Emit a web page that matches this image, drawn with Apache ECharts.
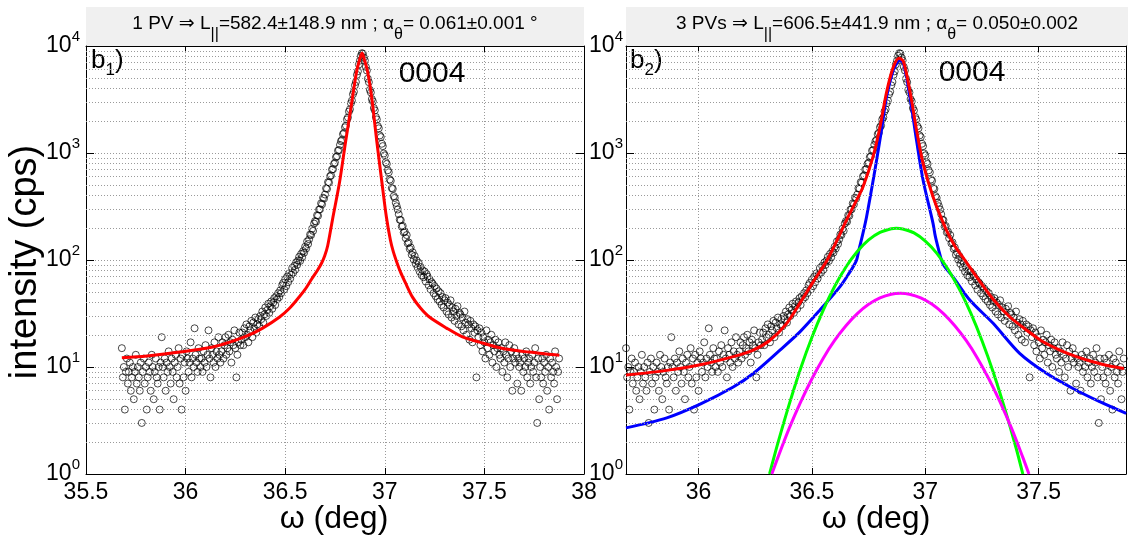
<!DOCTYPE html>
<html>
<head>
<meta charset="utf-8">
<script src="https://cdn.jsdelivr.net/npm/echarts@6.0.0/dist/echarts.min.js"></script>
<style>
html,body{margin:0;padding:0;background:#fff;}
#chart{width:1128px;height:543px;}
</style>
</head>
<body>
<div id="chart"></div>
<script>
// ω scan grid (deg) of the 0004 rocking curve
const omega = [
35.680,35.685,35.690,35.695,35.700,35.705,35.710,35.715,35.720,35.725,35.730,35.735,35.740,35.745,35.750,35.755,35.760,35.765,35.770,35.775,
35.780,35.785,35.790,35.795,35.800,35.805,35.810,35.815,35.820,35.825,35.830,35.835,35.840,35.845,35.850,35.855,35.860,35.865,35.870,35.875,
35.880,35.885,35.890,35.895,35.900,35.905,35.910,35.915,35.920,35.925,35.930,35.935,35.940,35.945,35.950,35.955,35.960,35.965,35.970,35.975,
35.980,35.985,35.990,35.995,36.000,36.005,36.010,36.015,36.020,36.025,36.030,36.035,36.040,36.045,36.050,36.055,36.060,36.065,36.070,36.075,
36.080,36.085,36.090,36.095,36.100,36.105,36.110,36.115,36.120,36.125,36.130,36.135,36.140,36.145,36.150,36.155,36.160,36.165,36.170,36.175,
36.180,36.185,36.190,36.195,36.200,36.205,36.210,36.215,36.220,36.225,36.230,36.235,36.240,36.245,36.250,36.255,36.260,36.265,36.270,36.275,
36.280,36.285,36.290,36.295,36.300,36.305,36.310,36.315,36.320,36.325,36.330,36.335,36.340,36.345,36.350,36.355,36.360,36.365,36.370,36.375,
36.380,36.385,36.390,36.395,36.400,36.405,36.410,36.415,36.420,36.425,36.430,36.435,36.440,36.445,36.450,36.455,36.460,36.465,36.470,36.475,
36.480,36.485,36.490,36.495,36.500,36.505,36.510,36.515,36.520,36.525,36.530,36.535,36.540,36.545,36.550,36.555,36.560,36.565,36.570,36.575,
36.580,36.585,36.590,36.595,36.600,36.605,36.610,36.615,36.620,36.625,36.630,36.635,36.640,36.645,36.650,36.655,36.660,36.665,36.670,36.675,
36.680,36.685,36.690,36.695,36.700,36.705,36.710,36.715,36.720,36.725,36.730,36.735,36.740,36.745,36.750,36.755,36.760,36.765,36.770,36.775,
36.780,36.785,36.790,36.795,36.800,36.805,36.810,36.815,36.820,36.825,36.830,36.835,36.840,36.845,36.850,36.855,36.860,36.865,36.870,36.875,
36.880,36.885,36.890,36.895,36.900,36.905,36.910,36.915,36.920,36.925,36.930,36.935,36.940,36.945,36.950,36.955,36.960,36.965,36.970,36.975,
36.980,36.985,36.990,36.995,37.000,37.005,37.010,37.015,37.020,37.025,37.030,37.035,37.040,37.045,37.050,37.055,37.060,37.065,37.070,37.075,
37.080,37.085,37.090,37.095,37.100,37.105,37.110,37.115,37.120,37.125,37.130,37.135,37.140,37.145,37.150,37.155,37.160,37.165,37.170,37.175,
37.180,37.185,37.190,37.195,37.200,37.205,37.210,37.215,37.220,37.225,37.230,37.235,37.240,37.245,37.250,37.255,37.260,37.265,37.270,37.275,
37.280,37.285,37.290,37.295,37.300,37.305,37.310,37.315,37.320,37.325,37.330,37.335,37.340,37.345,37.350,37.355,37.360,37.365,37.370,37.375,
37.380,37.385,37.390,37.395,37.400,37.405,37.410,37.415,37.420,37.425,37.430,37.435,37.440,37.445,37.450,37.455,37.460,37.465,37.470,37.475,
37.480,37.485,37.490,37.495,37.500,37.505,37.510,37.515,37.520,37.525,37.530,37.535,37.540,37.545,37.550,37.555,37.560,37.565,37.570,37.575,
37.580,37.585,37.590,37.595,37.600,37.605,37.610,37.615,37.620,37.625,37.630,37.635,37.640,37.645,37.650,37.655,37.660,37.665,37.670,37.675,
37.680,37.685,37.690,37.695,37.700,37.705,37.710,37.715,37.720,37.725,37.730,37.735,37.740,37.745,37.750,37.755,37.760,37.765,37.770,37.775,
37.780,37.785,37.790,37.795,37.800,37.805,37.810,37.815,37.820,37.825,37.830,37.835,37.840,37.845,37.850,37.855,37.860,37.865,37.870,37.875
];

// measured intensity (cps), one value per ω step
const counts = [
15,8,10,4,9,12,7,9,11,6,8,10,5,9,13,7,10,8,6,11,
3,9,12,7,10,4,8,11,9,6,13,10,5,9,12,8,7,10,4,11,
19,10,8,12,6,11,9,14,10,7,12,9,5,11,13,8,10,15,7,12,
4,13,8,11,6,14,12,9,11,17,8,12,10,23,13,11,9,15,12,10,
12,9,14,11,16,10,13,22,12,8,15,13,11,17,10,14,12,19,13,11,
14,17,12,16,19,13,15,20,14,17,11,18,16,22,15,8,13,17,21,16,
18,21,16,23,19,25,20,17,24,22,27,19,26,23,29,21,25,28,24,30,
28,33,26,31,36,30,34,39,32,37,41,35,40,44,38,46,43,49,45,52,
49,58,61,53,66,57,70,62,75,67,73,84,76,88,81,95,90,99,107,98,
114,106,121,117,133,128,149,141,156,173,171,196,187,219,231,228,262,259,296,298,
338,331,382,375,409,468,462,534,529,604,618,701,706,790,812,915,931,1052,1068,1190,
1290,1325,1500,1540,1740,1805,2060,2150,2440,2560,2920,3090,3540,3740,4290,4610,5380,5800,6720,7290,
8100,8560,8480,7800,7320,6380,5900,4950,4590,3890,3680,3190,3040,2630,2500,2170,2060,1780,1700,1460,
1410,1220,1160,990,950,820,790,690,660,565,550,470,462,395,380,342,318,296,268,238,
236,205,208,181,184,160,171,143,146,127,131,112,118,101,109,92,99,85,94,78,
86,72,80,69,78,63,74,70,58,66,53,62,60,49,57,46,54,43,51,41,
49,38,45,36,42,44,33,40,31,38,42,29,36,33,27,35,30,37,25,32,
31,24,29,22,33,26,20,28,25,18,27,23,17,25,21,24,8,22,19,23,
16,21,14,19,17,12,22,15,18,13,17,20,11,16,14,18,10,15,17,13,
12,15,9,14,11,17,13,8,12,16,10,14,6,12,15,11,13,7,12,10,
11,6,13,9,12,10,14,8,11,12,7,10,13,9,11,15,8,3,12,5,
10,8,12,7,11,9,13,6,10,4,12,8,11,9,7,14,10,5,9,12
];

// single pseudo-Voigt fit (panel b1)
const fit1Omega = [35.680,35.806,35.971,36.137,36.222,36.308,36.387,36.472,36.523,36.558,36.598,36.633,36.663,36.683,36.698,36.713,36.738,36.773,36.803,36.833,36.858,36.873,36.886,36.898,36.914,36.934,36.959,36.984,37.008,37.028,37.043,37.058,37.079,37.104,37.139,37.179,37.224,37.310,37.390,37.475,37.560,37.640,37.726,37.811,37.876];
const fit1Int   = [12.2,12.7,13.8,15.4,17.1,19.5,23.1,29.3,35.6,42.3,52.5,66.4,80.7,93.8,109,135,242,536,1268,2870,5710,7400,8600,7400,5710,3340,1322,559,252,154,119,98,77,61,45,35.6,29.3,23.1,19.1,17.1,15.4,14.4,13.8,13.2,12.9];

// sum of the three pseudo-Voigt components plus background (panel b2)
const sumOmega = [35.680,35.860,36.007,36.153,36.241,36.315,36.389,36.447,36.506,36.565,36.610,36.653,36.690,36.725,36.769,36.800,36.829,36.858,36.884,36.903,36.932,36.961,36.990,37.034,37.093,37.130,37.174,37.226,37.299,37.372,37.446,37.519,37.593,37.666,37.738,37.813,37.876];
const sumInt   = [8.4,9.3,10.5,12.5,14.4,17.8,25.6,39.5,62.8,98,152,237,340,481,920,1740,3700,6300,7700,7200,3800,1650,800,390,190,135,100,69.5,43,29.5,22.2,17.2,14.4,12.5,11.2,10.2,9.7];

// component 1 (narrow pseudo-Voigt)
const pvAOmega = [35.680,35.860,36.007,36.153,36.241,36.359,36.447,36.535,36.623,36.667,36.683,36.697,36.707,36.722,36.741,36.778,36.807,36.829,36.858,36.880,36.884,36.903,36.932,36.961,36.990,37.034,37.044,37.059,37.071,37.084,37.122,37.196,37.299,37.416,37.534,37.651,37.769,37.886];
const pvAInt   = [2.7,3.35,4.5,6.5,8.7,14.4,21.3,34,56,77,87.6,100,124,167,254,697,1650,3360,5900,7300,7400,6920,3360,1320,560,220,167,124,100,87.6,69.5,42.3,25.6,13.4,8.72,6.3,4.74,3.68];

// component 2 (green)
const pvBOmega = [36.313,36.350,36.400,36.450,36.500,36.550,36.600,36.650,36.700,36.750,36.800,36.850,36.872,36.900,36.950,37.000,37.050,37.100,37.150,37.200,37.250,37.300,37.350,37.400,37.430];
const pvBInt   = [1,1.95,4.5,9.7,19,34,56.5,86,120,154,181,196,198,195,179,150,116,82,53.4,32,17.6,8.9,4.1,1.76,1];

// component 3 (magenta)
const pvCOmega = [36.323,36.350,36.400,36.450,36.500,36.550,36.600,36.650,36.700,36.750,36.800,36.850,36.890,36.930,36.980,37.030,37.080,37.130,37.180,37.230,37.280,37.330,37.380,37.430,37.457];
const pvCInt   = [1,1.43,2.68,4.7,7.76,12.1,17.7,24.3,31.5,38.5,44.2,47.9,48.8,47.9,44.2,38.5,31.5,24.3,17.7,12.1,7.76,4.7,2.68,1.43,1];

// minor decade gridline levels on the log intensity axis
const minorLevels = [2,3,4,5,6,7,8,9,20,30,40,50,60,70,80,90,200,300,400,500,600,700,800,900,2000,3000,4000,5000,6000,7000,8000,9000];

// text
const titleLeft  = '1 PV \u21D2 L{s|||}=582.4\u00B1148.9 nm ; \u03B1{s|\u03B8}= 0.061\u00B10.001 \u00B0';
const titleRight = '3 PVs \u21D2 L{s|||}=606.5\u00B1441.9 nm ; \u03B1{s|\u03B8}= 0.050\u00B10.002';
const reflection = '0004';

const FONT = '"Liberation Sans", Arial, "DejaVu Sans", sans-serif';
const gridLine = { type: [1, 2], color: '#9a9a9a', width: 1 };

const pairs = (xs, ys) => xs.map((x, i) => [x, ys[i]]);
const scatterData = pairs(omega, counts);

function xAxisPair(gi, extra, bottomLabel) {
  const base = Object.assign({ type: 'value', gridIndex: gi }, extra);
  return [
    Object.assign({}, base, {
      position: 'bottom',
      axisLine: { show: true, onZero: false, lineStyle: { color: '#000', width: 1 } },
      axisTick: { show: true, inside: true, length: 6, lineStyle: { color: '#000' } },
      axisLabel: Object.assign({ color: '#000', fontSize: 23, fontFamily: FONT, margin: 7 }, bottomLabel),
      splitLine: { show: true, lineStyle: gridLine }
    }),
    Object.assign({}, base, {
      position: 'top',
      axisLine: { show: true, onZero: false, lineStyle: { color: '#000', width: 1 } },
      axisTick: { show: true, inside: true, length: 6, lineStyle: { color: '#000' } },
      axisLabel: { show: false },
      splitLine: { show: false }
    })
  ];
}

function yAxisPair(gi, margin) {
  const base = { type: 'log', logBase: 10, min: 1, max: 10000, gridIndex: gi };
  return [
    Object.assign({}, base, {
      position: 'left',
      axisLine: { show: true, onZero: false, lineStyle: { color: '#000', width: 1 } },
      axisTick: { show: true, inside: true, length: 8, lineStyle: { color: '#000' } },
      axisLabel: {
        margin: margin,
        formatter: v => '{b|10}{e|' + Math.round(Math.log10(v)) + '}',
        rich: {
          b: { fontSize: 23, lineHeight: 34, color: '#000', fontFamily: FONT },
          e: { fontSize: 15, lineHeight: 15, verticalAlign: 'top', color: '#000', fontFamily: FONT }
        }
      },
      splitLine: { show: true, lineStyle: gridLine }
    }),
    Object.assign({}, base, {
      position: 'right',
      axisLine: { show: true, onZero: false, lineStyle: { color: '#000', width: 1 } },
      axisTick: { show: true, inside: true, length: 8, lineStyle: { color: '#000' } },
      axisLabel: { show: false },
      splitLine: { show: false }
    })
  ];
}

function minorGrid(xi, yi) {
  return {
    type: 'line', xAxisIndex: xi, yAxisIndex: yi, data: [], silent: true, z: 1,
    markLine: {
      silent: true, symbol: 'none', animation: false,
      label: { show: false },
      lineStyle: gridLine,
      data: minorLevels.map(v => ({ yAxis: v }))
    }
  };
}

function dots(xi, yi) {
  return {
    type: 'scatter', xAxisIndex: xi, yAxisIndex: yi, data: scatterData, z: 2,
    symbol: 'circle', symbolSize: 7, silent: true,
    itemStyle: { color: 'rgba(0,0,0,0)', borderColor: '#000', borderWidth: 0.9 }
  };
}

function curve(xi, yi, xs, ys, color, z) {
  return {
    type: 'line', xAxisIndex: xi, yAxisIndex: yi, data: pairs(xs, ys), z: z,
    showSymbol: false, smooth: 0.3, clip: true, silent: true,
    lineStyle: { color: color, width: 3 }
  };
}

const chart = echarts.init(document.getElementById('chart'), null, { renderer: 'canvas' });

const subStyle = { fontSize: 16, lineHeight: 16, verticalAlign: 'bottom', fill: '#000', fontFamily: FONT };

chart.setOption({
  animation: false,
  backgroundColor: '#fff',
  textStyle: { fontFamily: FONT },
  grid: [
    { left: 86, top: 46, width: 498, height: 428 },
    { left: 626, top: 46, width: 500, height: 428 }
  ],
  xAxis: [].concat(
    xAxisPair(0, { min: 35.5, max: 38, interval: 0.5 }, {}),
    xAxisPair(1, { min: 35.68, max: 37.885, splitNumber: 5 }, { showMinLabel: false, showMaxLabel: false })
  ),
  yAxis: [].concat(yAxisPair(0, 6), yAxisPair(1, 3)),
  series: [
    minorGrid(0, 0),
    dots(0, 0),
    curve(0, 0, fit1Omega, fit1Int, '#ff0000', 5),
    minorGrid(2, 2),
    dots(2, 2),
    curve(2, 2, pvAOmega, pvAInt, '#0000ff', 3),
    curve(2, 2, pvBOmega, pvBInt, '#00ff00', 4),
    curve(2, 2, pvCOmega, pvCInt, '#ff00ff', 4),
    curve(2, 2, sumOmega, sumInt, '#ff0000', 5)
  ],
  graphic: [
    { type: 'rect', silent: true, shape: { x: 86, y: 7, width: 498, height: 39 }, style: { fill: '#f0f0f0' } },
    { type: 'rect', silent: true, shape: { x: 626, y: 7, width: 502, height: 39 }, style: { fill: '#f0f0f0' } },
    { type: 'text', silent: true, x: 335, y: 24, style: {
        text: titleLeft, fill: '#000', fontSize: 19, fontFamily: FONT, lineHeight: 38,
        align: 'center', verticalAlign: 'middle', rich: { s: subStyle } } },
    { type: 'text', silent: true, x: 877, y: 24, style: {
        text: titleRight, fill: '#000', fontSize: 19, fontFamily: FONT, lineHeight: 38,
        align: 'center', verticalAlign: 'middle', rich: { s: subStyle } } },
    { type: 'text', silent: true, x: 91, y: 61, style: {
        text: 'b{s|1})', fill: '#000', fontSize: 26, fontFamily: FONT, lineHeight: 36,
        align: 'left', verticalAlign: 'middle',
        rich: { s: { fontSize: 17, lineHeight: 17, verticalAlign: 'bottom', fill: '#000', fontFamily: FONT } } } },
    { type: 'text', silent: true, x: 630, y: 61, style: {
        text: 'b{s|2})', fill: '#000', fontSize: 26, fontFamily: FONT, lineHeight: 36,
        align: 'left', verticalAlign: 'middle',
        rich: { s: { fontSize: 17, lineHeight: 17, verticalAlign: 'bottom', fill: '#000', fontFamily: FONT } } } },
    { type: 'text', silent: true, x: 432, y: 74, style: {
        text: reflection, fill: '#000', fontSize: 30, fontFamily: FONT, align: 'center', verticalAlign: 'middle' } },
    { type: 'text', silent: true, x: 972, y: 73, style: {
        text: reflection, fill: '#000', fontSize: 30, fontFamily: FONT, align: 'center', verticalAlign: 'middle' } },
    { type: 'text', silent: true, x: 334, y: 519, style: {
        text: '\u03C9 (deg)', fill: '#000', fontSize: 32, fontFamily: FONT, align: 'center', verticalAlign: 'middle' } },
    { type: 'text', silent: true, x: 876, y: 519, style: {
        text: '\u03C9 (deg)', fill: '#000', fontSize: 32, fontFamily: FONT, align: 'center', verticalAlign: 'middle' } },
    { type: 'text', silent: true, x: 26, y: 262, rotation: Math.PI / 2, style: {
        text: 'intensity (cps)', fill: '#000', fontSize: 38, fontFamily: FONT, align: 'center', verticalAlign: 'middle' } }
  ]
});
</script>
</body>
</html>
